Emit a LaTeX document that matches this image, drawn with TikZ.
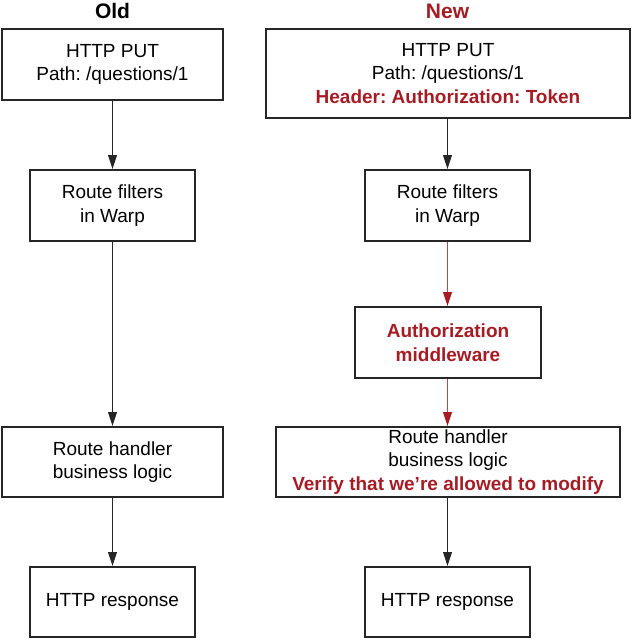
\documentclass[tikz,border=0pt]{standalone}
\usepackage{fontspec}
\setmainfont{Liberation Sans}
\usetikzlibrary{arrows.meta}
\definecolor{accent}{RGB}{165,28,36}
\definecolor{redline}{RGB}{192,70,76}
\begin{document}
\frenchspacing
\begin{tikzpicture}[x=1pt,y=-1pt,
  box/.style={draw=black!85,line width=1.6pt,inner sep=0pt,align=center,
    font=\frenchspacing\fontsize{19}{23.5}\selectfont},
  title/.style={font=\bfseries\fontsize{21}{24}\selectfont,inner sep=0pt},
  flow/.style={draw=black!85,line width=1.8pt,-{Triangle[length=14pt,width=8.5pt]}},
  redflow/.style={draw=redline,line width=1.8pt,-{Triangle[length=14pt,width=8.5pt,color=accent]}}]
\useasboundingbox (0,0) rectangle (631,639);
% titles
\node[title] (told) at (112.5,11) {Old};
\node[title,text=accent] (tnew) at (447.5,11) {New};
% old column
\node[box,minimum width=221pt,minimum height=71pt] (o1) at (112.5,64.5) {HTTP PUT\\Path: /questions/1};
\node[box,minimum width=165pt,minimum height=71pt] (o2) at (112.5,205.5) {Route filters\\in Warp};
\node[box,minimum width=221pt,minimum height=70pt] (o3) at (112.5,462) {Route handler\\business logic};
\node[box,minimum width=165pt,minimum height=70pt] (o4) at (112.5,602) {HTTP response};
% new column
\node[box,minimum width=364pt,minimum height=89pt] (n1) at (448,73.5) {HTTP PUT\\Path: /questions/1\\\textcolor{accent}{\bfseries Header: Authorization: Token}};
\node[box,minimum width=165pt,minimum height=71pt] (n2) at (447.5,205.5) {Route filters\\in Warp};
\node[box,minimum width=186pt,minimum height=71pt,text=accent,font=\bfseries\fontsize{19}{24}\selectfont] (n3) at (448,342.5) {Authorization\\middleware};
\node[box,minimum width=344pt,minimum height=70pt] (n4) at (448,462) {Route handler\\business logic\\\textcolor{accent}{\bfseries Verify that we’re allowed to modify}};
\node[box,minimum width=165pt,minimum height=70pt] (n5) at (447.5,602) {HTTP response};
% connectors
\draw[flow] (o1) -- (o2);
\draw[flow] (o2) -- (o3);
\draw[flow] (o3) -- (o4);
\draw[flow] (n1.south -| n2) -- (n2);
\draw[redflow] (n2) -- (n2 |- n3.north);
\draw[redflow] (n3.south -| n2) -- (n2 |- n4.north);
\draw[flow] (n4.south -| n2) -- (n5);
\end{tikzpicture}
\end{document}
